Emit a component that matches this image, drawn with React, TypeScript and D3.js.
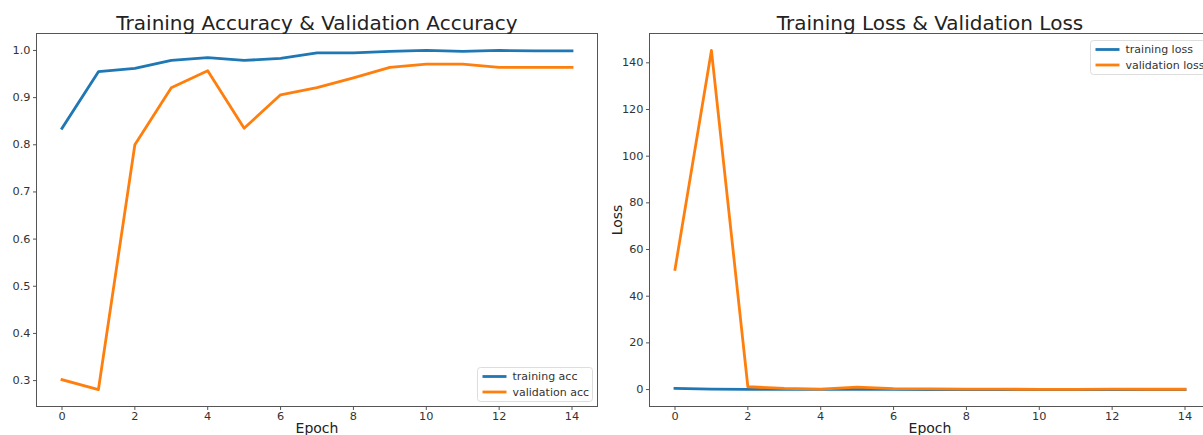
import React from "react";
import * as d3 from "d3";

const epochs = [0, 1, 2, 3, 4, 5, 6, 7, 8, 9, 10, 11, 12, 13, 14];
const trainingAcc = [0.835, 0.955, 0.962, 0.979, 0.985, 0.979, 0.983, 0.995, 0.995, 0.998, 1.0, 0.998, 1.0, 0.999, 0.999];
const validationAcc = [0.302, 0.281, 0.8, 0.921, 0.957, 0.835, 0.906, 0.921, 0.942, 0.964, 0.971, 0.971, 0.964, 0.964, 0.964];
const trainingLoss = [0.5, 0.15, 0.1, 0.07, 0.05, 0.06, 0.04, 0.02, 0.02, 0.01, 0.005, 0.01, 0.005, 0.003, 0.003];
const validationLoss = [51.5, 145.3, 1.2, 0.5, 0.2, 1.0, 0.4, 0.3, 0.2, 0.15, 0.1, 0.1, 0.15, 0.12, 0.12];
const xTicks = [0, 2, 4, 6, 8, 10, 12, 14];
const accTicks = [0.3, 0.4, 0.5, 0.6, 0.7, 0.8, 0.9, 1.0];
const lossTicks = [0, 20, 40, 60, 80, 100, 120, 140];

const BLUE = "#1f77b4";
const ORANGE = "#ff7f0e";
const FONT = "DejaVu Sans, sans-serif";

type PanelProps = {
  left: number;
  right: number;
  top: number;
  bottom: number;
  series: { values: number[]; color: string; label: string }[];
  yTicks: number[];
  yFmt: (v: number) => string;
  title: string;
  yLabel?: string;
  legendPos: "lr" | "ur";
};

function Panel(p: PanelProps) {
  const all = p.series.flatMap((s) => s.values);
  const mn = d3.min(all)!;
  const mx = d3.max(all)!;
  const pad = (mx - mn) * 0.05;
  const x = d3.scaleLinear().domain([-0.7, 14.7]).range([p.left, p.right]);
  const y = d3.scaleLinear().domain([mn - pad, mx + pad]).range([p.bottom, p.top]);
  const line = d3
    .line<number>()
    .x((_, i) => x(epochs[i]))
    .y((d) => y(d));
  const cx = (p.left + p.right) / 2;
  const legendW = 115;
  const legendH = 34;
  let lx: number, ly: number;
  if (p.legendPos === "lr") {
    lx = p.right - 5 - legendW;
    ly = p.bottom - 5 - legendH;
  } else {
    lx = p.right - 5 - legendW;
    ly = p.top + 7;
  }
  return (
    <g>
      <defs>
        <clipPath id={"clip" + p.left}>
          <rect x={p.left} y={p.top} width={p.right - p.left} height={p.bottom - p.top} />
        </clipPath>
      </defs>
      {p.series.map((s) => (
        <path
          key={s.label}
          d={line(s.values)!}
          fill="none"
          stroke={s.color}
          strokeWidth={2.8}
          strokeLinejoin="round"
          strokeLinecap="square"
          clipPath={`url(#clip${p.left})`}
        />
      ))}
      <rect
        x={p.left}
        y={p.top}
        width={p.right - p.left}
        height={p.bottom - p.top}
        fill="none"
        stroke="#555"
        strokeWidth={1}
      />
      {xTicks.map((t) => (
        <g key={"x" + t}>
          <line x1={x(t)} x2={x(t)} y1={p.bottom} y2={p.bottom + 3.5} stroke="#555" />
          <text
            x={x(t)}
            y={p.bottom + 5}
            dominantBaseline="hanging"
            textAnchor="middle"
            fontSize={11.3}
            fontFamily={FONT}
            fill="#333"
          >
            {t}
          </text>
        </g>
      ))}
      {p.yTicks.map((t) => (
        <g key={"y" + t}>
          <line x1={p.left - 3.5} x2={p.left} y1={y(t)} y2={y(t)} stroke="#555" />
          <text
            x={p.left - 6}
            y={y(t)}
            dominantBaseline="central"
            textAnchor="end"
            fontSize={11.3}
            fontFamily={FONT}
            fill="#333"
          >
            {p.yFmt(t)}
          </text>
        </g>
      ))}
      <text x={cx} y={p.top - 4} textAnchor="middle" fontSize={20} fontFamily={FONT} fill="#222">
        {p.title}
      </text>
      <text x={cx} y={433} textAnchor="middle" fontSize={14} fontFamily={FONT} fill="#222">
        Epoch
      </text>
      {p.yLabel && (
        <text
          transform={`translate(${p.left - 28},${(p.top + p.bottom) / 2}) rotate(-90)`}
          textAnchor="middle"
          fontSize={14}
          fontFamily={FONT}
          fill="#222"
        >
          {p.yLabel}
        </text>
      )}
      <g>
        <rect x={lx} y={ly} width={legendW} height={legendH} rx={3} fill="white" fillOpacity={0.8} stroke="#ddd" />
        {p.series.map((s, i) => (
          <g key={"lg" + s.label}>
            <line
              x1={lx + 5}
              x2={lx + 29}
              y1={ly + 9 + i * 15.5}
              y2={ly + 9 + i * 15.5}
              stroke={s.color}
              strokeWidth={2.8}
            />
            <text
              x={lx + 35}
              y={ly + 9 + i * 15.5}
              dominantBaseline="central"
              fontSize={11}
              fontFamily={FONT}
              fill="#333"
            >
              {s.label}
            </text>
          </g>
        ))}
      </g>
    </g>
  );
}

export default function App() {
  return (
    <svg
      width={1203}
      height={435}
      style={{ position: "absolute", left: 0, top: 0, background: "white" }}
    >
      <rect width={1203} height={435} fill="white" />
      <Panel
        left={36.5}
        right={597.5}
        top={33.5}
        bottom={406.5}
        series={[
          { values: trainingAcc, color: BLUE, label: "training acc" },
          { values: validationAcc, color: ORANGE, label: "validation acc" },
        ]}
        yTicks={accTicks}
        yFmt={(v) => v.toFixed(1)}
        title="Training Accuracy & Validation Accuracy"
        legendPos="lr"
      />
      <Panel
        left={649.5}
        right={1210.5}
        top={33.5}
        bottom={406.5}
        series={[
          { values: trainingLoss, color: BLUE, label: "training loss" },
          { values: validationLoss, color: ORANGE, label: "validation loss" },
        ]}
        yTicks={lossTicks}
        yFmt={(v) => String(v)}
        title="Training Loss & Validation Loss"
        yLabel="Loss"
        legendPos="ur"
      />
    </svg>
  );
}
